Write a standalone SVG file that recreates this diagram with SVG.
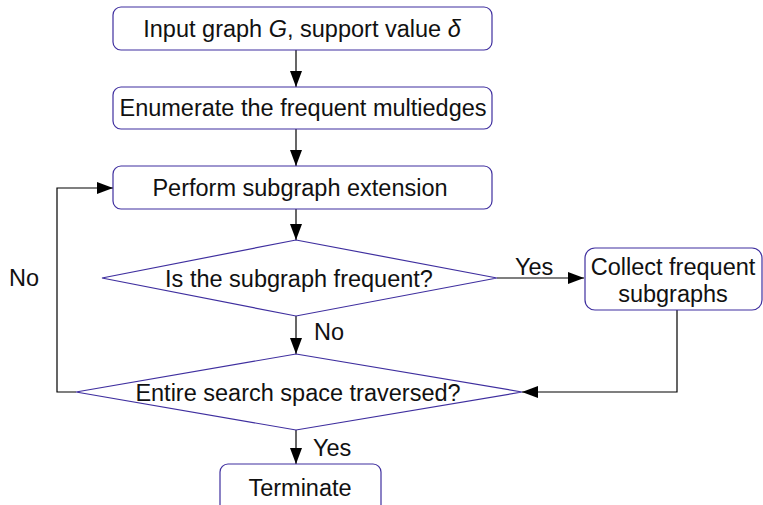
<svg xmlns="http://www.w3.org/2000/svg" width="763" height="505" viewBox="0 0 763 505">
<defs>
<marker id="ah" markerWidth="16" markerHeight="12" refX="16" refY="6" orient="auto" markerUnits="userSpaceOnUse" viewBox="0 0 16 12">
<path d="M0,0 L16,6 L0,12 z" fill="#000"/>
</marker>
<style>
.n{fill:#fff;stroke:#3f2f9f;stroke-width:1.2}
.t{font-family:"Liberation Sans",Arial,sans-serif;font-size:23.5px;fill:#111;text-anchor:middle}
.l{font-family:"Liberation Sans",Arial,sans-serif;font-size:23.5px;fill:#111}
.c{fill:none;stroke:#000;stroke-width:1.2}
</style>
</defs>
<rect width="763" height="505" fill="#fff"/>
<g id="connectors">
<path class="c" d="M296,50 V87" marker-end="url(#ah)"/>
<path class="c" d="M296,129 V166" marker-end="url(#ah)"/>
<path class="c" d="M296,209 V240" marker-end="url(#ah)"/>
<path class="c" d="M296,316 V354" marker-end="url(#ah)"/>
<path class="c" d="M497,278 H584" marker-end="url(#ah)"/>
<path class="c" d="M677,310 V392 H522" marker-end="url(#ah)"/>
<path class="c" d="M76,392 H57 V188 H113" marker-end="url(#ah)"/>
<path class="c" d="M296,430 V464" marker-end="url(#ah)"/>
<text class="l" x="515" y="275">Yes</text>
<text class="l" x="314" y="340">No</text>
<text class="l" x="313" y="456">Yes</text>
<text class="l" x="9" y="286">No</text>
</g>
<g id="input">
<rect class="n" x="113" y="7" width="379" height="43" rx="8"/>
<text class="t" x="302" y="37">Input graph <tspan font-style="italic">G</tspan>, support value <tspan font-style="italic">δ</tspan></text>
</g>
<g id="enumerate">
<rect class="n" x="113" y="87" width="379" height="42" rx="8"/>
<text class="t" x="303" y="116">Enumerate the frequent multiedges</text>
</g>
<g id="extend">
<rect class="n" x="113" y="166" width="379" height="43" rx="8"/>
<text class="t" x="300" y="196">Perform subgraph extension</text>
</g>
<g id="frequent">
<polygon class="n" points="296,240 497,278 296,316 102,278"/>
<text class="t" x="299" y="287">Is the subgraph frequent?</text>
</g>
<g id="collect">
<rect class="n" x="585" y="248" width="177" height="62" rx="10"/>
<text class="t" x="673" y="275">Collect frequent</text>
<text class="t" x="673" y="302">subgraphs</text>
</g>
<g id="traversed">
<polygon class="n" points="296,354 522,392 296,430 76,392"/>
<text class="t" x="298" y="401">Entire search space traversed?</text>
</g>
<g id="terminate">
<rect class="n" x="220" y="464" width="161" height="50" rx="8"/>
<text class="t" x="300" y="496">Terminate</text>
</g>
</svg>
